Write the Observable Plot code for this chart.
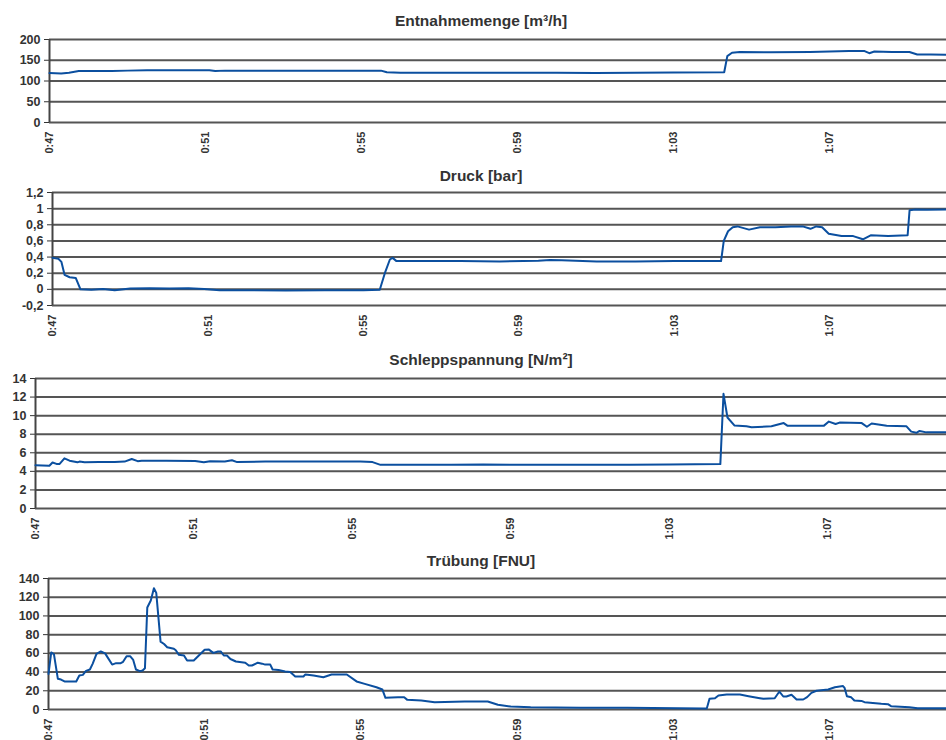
<!DOCTYPE html>
<html><head><meta charset="utf-8">
<script src="https://cdn.jsdelivr.net/npm/d3@7"></script>
<script src="https://cdn.jsdelivr.net/npm/@observablehq/plot@0.6"></script>
<style>
body{margin:0;background:#fff;}
#root{position:relative;width:946px;height:740px;overflow:hidden;font-family:"Liberation Sans",Arial,sans-serif;}
.title{position:absolute;left:481px;transform:translateX(-50%);font-size:15.5px;font-weight:bold;color:#333;white-space:nowrap;line-height:18px;}
.panel{position:absolute;left:0;}
.panel g[aria-label^="x-axis"] text{font-size:11px;}
</style></head><body><div id="root"></div>
<script>
// time in minutes (47 = 0:47)
const xTicks = [47, 51, 55, 59, 63, 67];
const xTickLabels = ["0:47", "0:51", "0:55", "0:59", "1:03", "1:07"];

// Entnahmemenge [m³/h]
const entnahmeT = [47.0, 47.3, 47.5, 47.75, 48.2, 48.6, 49.0, 49.5, 50.5, 51.1, 51.25, 51.5, 52.5, 53.5, 54.5, 55.5, 55.65, 56, 57, 58, 59, 60, 61, 62, 63, 64.3, 64.38, 64.5, 64.7, 65.5, 66.5, 67.0, 67.5, 67.9, 68.02, 68.15, 68.6, 69.05, 69.25, 69.6, 70];
const entnahmeV = [119, 118, 120, 124, 124, 124, 125, 126, 126, 126, 124, 125, 125, 125, 125, 125, 121, 120, 120, 120, 120, 120, 119.5, 120, 120.5, 121, 160, 168, 170, 169, 170, 171, 172, 172, 167, 171, 170, 170, 164, 164, 163];
const entnahmeTicks = [0, 50, 100, 150, 200];
const entnahmeLabels = ["0", "50", "100", "150", "200"];

// Druck [bar]
const druckT = [47.0, 47.15, 47.23, 47.31, 47.44, 47.6, 47.72, 48.0, 48.3, 48.6, 49.0, 49.5, 50.0, 50.5, 50.9, 51.3, 52, 53, 54, 55, 55.42, 55.55, 55.68, 55.75, 55.85, 56.5, 57.5, 58.5, 59.5, 59.8, 60.1, 61, 62, 63, 64.2, 64.27, 64.38, 64.5, 64.62, 64.92, 65.2, 65.6, 66, 66.3, 66.5, 66.65, 66.8, 66.97, 67.3, 67.6, 67.85, 68.05, 68.5, 69.0, 69.05, 69.2, 69.5, 70];
const druckV = [0.39, 0.38, 0.34, 0.18, 0.15, 0.14, 0.0, -0.005, 0.005, -0.01, 0.01, 0.015, 0.01, 0.015, 0.005, -0.01, -0.01, -0.015, -0.01, -0.012, -0.005, 0.2, 0.37, 0.39, 0.35, 0.35, 0.35, 0.345, 0.355, 0.365, 0.36, 0.345, 0.345, 0.35, 0.35, 0.6, 0.72, 0.77, 0.78, 0.74, 0.77, 0.77, 0.78, 0.78, 0.75, 0.78, 0.77, 0.69, 0.66, 0.66, 0.62, 0.67, 0.66, 0.67, 0.98, 0.99, 0.985, 0.99];
const druckTicks = [-0.2, 0, 0.2, 0.4, 0.6, 0.8, 1, 1.2];
const druckLabels = ["-0,2", "0", "0,2", "0,4", "0,6", "0,8", "1", "1,2"];

// Schleppspannung [N/m²]
const schleppT = [47.0, 47.35, 47.43, 47.53, 47.61, 47.73, 47.86, 48.06, 48.11, 48.24, 48.6, 49.0, 49.25, 49.43, 49.58, 49.68, 50.3, 51.03, 51.25, 51.41, 51.78, 51.96, 52.09, 52.8, 53.5, 54.3, 55.2, 55.51, 55.71, 56.5, 57.5, 58.3, 59.0, 60, 61, 62, 63, 64.29, 64.37, 64.47, 64.65, 64.95, 65.08, 65.58, 65.89, 65.99, 66.5, 66.9, 67.03, 67.2, 67.3, 67.86, 67.99, 68.11, 68.49, 68.99, 69.11, 69.24, 69.32, 69.49, 70];
const schleppV = [4.65, 4.6, 4.95, 4.8, 4.8, 5.4, 5.15, 4.97, 5.05, 4.97, 5.0, 5.0, 5.05, 5.33, 5.1, 5.15, 5.15, 5.12, 4.97, 5.1, 5.07, 5.2, 5.0, 5.05, 5.05, 5.05, 5.05, 5.0, 4.7, 4.7, 4.72, 4.75, 4.7, 4.72, 4.7, 4.72, 4.73, 4.78, 12.35, 9.8, 8.93, 8.85, 8.75, 8.85, 9.2, 8.9, 8.9, 8.9, 9.36, 9.1, 9.25, 9.2, 8.8, 9.15, 8.9, 8.85, 8.28, 8.15, 8.35, 8.2, 8.2];
const schleppTicks = [0, 2, 4, 6, 8, 10, 12, 14];
const schleppLabels = ["0", "2", "4", "6", "8", "10", "12", "14"];

// Trübung [FNU]
const truebT = [47.0, 47.07, 47.14, 47.24, 47.32, 47.41, 47.71, 47.79, 47.88, 47.96, 48.06, 48.13, 48.23, 48.34, 48.45, 48.51, 48.63, 48.73, 48.85, 48.91, 49.0, 49.09, 49.17, 49.24, 49.34, 49.41, 49.47, 49.53, 49.62, 49.70, 49.76, 49.87, 49.96, 50.04, 50.21, 50.26, 50.34, 50.47, 50.55, 50.72, 50.85, 51.0, 51.11, 51.22, 51.34, 51.41, 51.49, 51.57, 51.66, 51.80, 52.04, 52.13, 52.21, 52.36, 52.47, 52.55, 52.68, 52.74, 52.89, 53.06, 53.19, 53.32, 53.53, 53.58, 53.79, 54.04, 54.25, 54.64, 54.89, 55.10, 55.40, 55.55, 55.63, 55.95, 56.11, 56.19, 56.55, 56.89, 57.66, 58.25, 58.51, 58.84, 59.35, 60.63, 61.82, 63.78, 63.86, 63.93, 64.07, 64.16, 64.37, 64.71, 64.93, 65.22, 65.31, 65.60, 65.72, 65.82, 65.90, 66.03, 66.16, 66.33, 66.43, 66.54, 66.67, 66.97, 67.14, 67.35, 67.39, 67.45, 67.56, 67.64, 67.82, 67.90, 68.33, 68.50, 68.58, 69.05, 69.26, 70];
const truebV = [38, 61, 59, 32.8, 32, 30, 30, 36.3, 37, 41.3, 42.7, 48.8, 59.5, 62, 60, 56, 48, 49.5, 49.5, 51, 57, 57, 53, 42.7, 41, 41.7, 44, 109, 116.5, 129.6, 124.6, 72.6, 70, 66.6, 65, 63.3, 58.4, 57.7, 52.3, 52.3, 57.7, 63.8, 64, 60.5, 62, 62, 57.7, 57.7, 54, 51.3, 50, 47, 47, 50, 49, 48, 48, 42.7, 42.3, 40.6, 40, 35.3, 35.3, 37.5, 36.3, 34.5, 37.4, 37.4, 30, 27.4, 23.8, 21.4, 12.5, 13, 13, 10.3, 9.6, 7.8, 8.5, 8.5, 5, 3.2, 2.5, 2, 1.8, 1, 1, 11.4, 12, 15, 16, 16, 14.2, 12, 11.4, 12, 19.2, 13.9, 13.9, 15.7, 10.7, 10.7, 13.2, 17.8, 20, 21.4, 23.8, 25, 23, 14.2, 13, 9.6, 9.2, 7.8, 6.1, 5.7, 3.6, 2.5, 1.4, 1.4];
const truebTicks = [0, 20, 40, 60, 80, 100, 120, 140];
const truebLabels = ["0", "20", "40", "60", "80", "100", "120", "140"];

const root = document.getElementById("root");

function panel(cfg) {
  const data = cfg.t.map((x, i) => ({t: x, v: cfg.v[i]}));
  const title = document.createElement("div");
  title.className = "title";
  title.style.top = cfg.titleTop + "px";
  title.textContent = cfg.title;
  root.appendChild(title);
  const svg = Plot.plot({
    width: 946,
    height: cfg.height,
    marginTop: cfg.mt,
    marginBottom: cfg.mb,
    marginLeft: cfg.ml,
    marginRight: 0,
    style: {fontFamily: "Liberation Sans, Arial, sans-serif", fontSize: "12.5px", fontWeight: "bold", color: "#333", background: "transparent", overflow: "visible"},
    x: {domain: [47, 70], ticks: xTicks, tickFormat: d => xTickLabels[xTicks.indexOf(d)], tickRotate: -90, tickSize: 0, tickPadding: 9, label: null},
    y: {domain: cfg.yDomain, ticks: cfg.yTicks, tickFormat: d => cfg.yLabels[cfg.yTicks.indexOf(d)], tickSize: 5, tickPadding: 4, label: null},
    marks: [
      Plot.ruleY(cfg.yTicks, {stroke: "#555", strokeWidth: 2}),
      Plot.ruleX([47], {stroke: "#444", strokeWidth: 2}),
      Plot.line(data, {x: "t", y: "v", stroke: "#0b4f9f", strokeWidth: 2})
    ]
  });
  const wrap = document.createElement("div");
  wrap.className = "panel";
  wrap.style.top = cfg.top + "px";
  wrap.appendChild(svg);
  root.appendChild(wrap);
}

panel({title: "Entnahmemenge [m³/h]", titleTop: 12, top: 30, height: 127, mt: 9, mb: 35, ml: 49,
  t: entnahmeT, v: entnahmeV, yDomain: [0, 200], yTicks: entnahmeTicks, yLabels: entnahmeLabels});
panel({title: "Druck [bar]", titleTop: 167, top: 183, height: 160, mt: 9, mb: 38, ml: 52,
  t: druckT, v: druckV, yDomain: [-0.2, 1.2], yTicks: druckTicks, yLabels: druckLabels});
panel({title: "Schleppspannung [N/m²]", titleTop: 351, top: 369, height: 177, mt: 9, mb: 38, ml: 35,
  t: schleppT, v: schleppV, yDomain: [0, 14], yTicks: schleppTicks, yLabels: schleppLabels});
panel({title: "Trübung [FNU]", titleTop: 552, top: 569, height: 171, mt: 9, mb: 31, ml: 48,
  t: truebT, v: truebV, yDomain: [0, 140], yTicks: truebTicks, yLabels: truebLabels});
</script>
</body></html>
